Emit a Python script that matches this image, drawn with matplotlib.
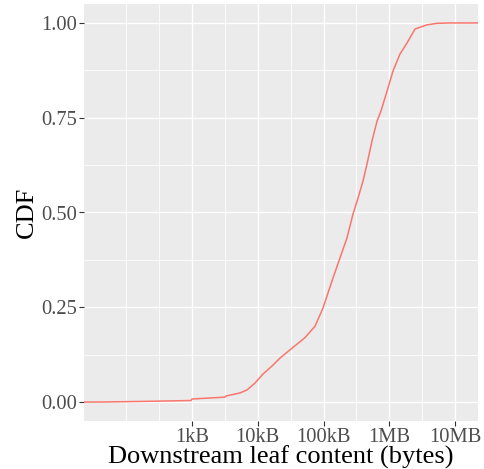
import matplotlib
matplotlib.use("Agg")
import matplotlib.pyplot as plt
import numpy as np

# Datos (tamaño en bytes, valor de la CDF)
tamanos = [10, 40, 230, 965, 1000, 3177, 3288, 5370, 6870, 9080, 12020, 16480,
           21780, 33190, 52350, 74300, 98200, 139300, 178100, 227600, 281000,
           334900, 399000, 459000, 547000, 652000, 740000, 925000, 1140000,
           1456000, 1862000, 2464000, 3752000, 5322000, 8390000, 1e8]
cdf = [0.0, 0.0, 0.002, 0.004, 0.008, 0.013, 0.016, 0.024, 0.032, 0.05, 0.074,
       0.095, 0.116, 0.142, 0.17, 0.2, 0.248, 0.327, 0.38, 0.433, 0.496, 0.538,
       0.583, 0.628, 0.689, 0.741, 0.765, 0.82, 0.873, 0.918, 0.947, 0.984,
       0.995, 0.999, 1.0, 1.0]

x_ticks = [1e3, 1e4, 1e5, 1e6, 1e7]
x_labels = ["1kB", "10kB", "100kB", "1MB", "10MB"]
x_minor = [10**2, 10**2.5, 10**3.5, 10**4.5, 10**5.5, 10**6.5]
y_ticks = [0.0, 0.25, 0.5, 0.75, 1.0]
y_minor = [0.125, 0.375, 0.625, 0.875]

plt.rcParams['font.family'] = ['Liberation Serif', 'DejaVu Serif']

fig = plt.figure(figsize=(4.85, 4.69), dpi=100)
ax = fig.add_axes([84/485, (469-421)/469, 394/485, 417/469])
ax.set_facecolor("#EBEBEB")

# Rejilla estilo ggplot
for v in x_minor:
    ax.axvline(v, color="white", lw=0.55, zorder=0)
for v in y_minor:
    ax.axhline(v, color="white", lw=0.55, zorder=0)
for v in x_ticks:
    ax.axvline(v, color="white", lw=1.0, zorder=0)
for v in y_ticks:
    ax.axhline(v, color="white", lw=1.0, zorder=0)

ax.plot(tamanos, cdf, color="#F8766D", lw=1.1, zorder=2)

ax.set_xscale("log")
ax.set_xlim(10**1.357, 10**7.35)
ax.set_ylim(-0.05, 1.05)

ax.set_xticks(x_ticks)
ax.set_xticklabels(x_labels)
ax.xaxis.set_minor_locator(matplotlib.ticker.NullLocator())
ax.set_yticks(y_ticks)
ax.set_yticklabels(["%.2f" % v for v in y_ticks])

ax.tick_params(axis="both", length=3.5, width=0.8, color="#333333",
               labelcolor="#4D4D4D", labelsize=14.8, pad=1.2)
for s in ax.spines.values():
    s.set_visible(False)

ax.set_xlabel("Downstream leaf content (bytes)", fontsize=19)
ax.xaxis.set_label_coords(0.5, -25/417)
ax.xaxis.label.set_va("top")
ax.set_ylabel("CDF", fontsize=19, labelpad=3)

fig.savefig("out.png", dpi=100)
